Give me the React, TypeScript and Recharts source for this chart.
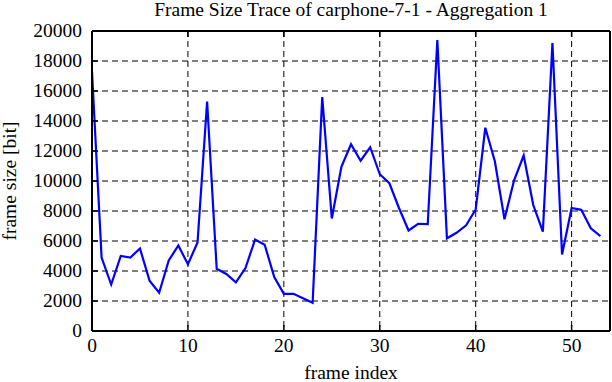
import React from 'react';
import { LineChart, Line, XAxis, YAxis, CartesianGrid } from 'recharts';

const frameIndex: number[] = Array.from({ length: 54 }, (_, i) => i);
const frameSize: number[] = [
  17300, 4900, 3100, 5000, 4900, 5500, 3350, 2550, 4700, 5700,
  4450, 5900, 15300, 4150, 3800, 3250, 4200, 6100, 5750, 3600,
  2480, 2480, 2180, 1880, 15600, 7500, 10950, 12450, 11350, 12250,
  10450, 9850, 8200, 6700, 7150, 7120, 19400, 6180, 6550, 7050,
  8100, 13550, 11300, 7450, 10050, 11700, 8400, 6620, 19200, 5100,
  8200, 8080, 6850, 6330,
];
const xTicks: number[] = [0, 10, 20, 30, 40, 50];
const yTicks: number[] = [0, 2000, 4000, 6000, 8000, 10000, 12000, 14000, 16000, 18000, 20000];

const data = frameIndex.map((x, i) => ({ x, y: frameSize[i] }));

const FONT = '"Liberation Serif", "Times New Roman", serif';
const FS = 19.5;
const TL = 6;

const BottomTick = (p: any) => (
  <g>
    <line x1={p.x} y1={p.y} x2={p.x} y2={p.y - TL} stroke="#000" strokeWidth={1.5} />
    <text x={p.x} y={p.y + 21} textAnchor="middle" fontFamily={FONT} fontSize={FS} fill="#000">
      {p.payload.value}
    </text>
  </g>
);
const TopTick = (p: any) => (
  <line x1={p.x} y1={p.y} x2={p.x} y2={p.y + TL} stroke="#000" strokeWidth={1.5} />
);
const LeftTick = (p: any) => (
  <g>
    <line x1={p.x} y1={p.y} x2={p.x + TL} y2={p.y} stroke="#000" strokeWidth={1.5} />
    <text x={p.x - 10} y={p.y + 6} textAnchor="end" fontFamily={FONT} fontSize={FS} fill="#000">
      {p.payload.value}
    </text>
  </g>
);
const RightTick = (p: any) => (
  <line x1={p.x} y1={p.y} x2={p.x - TL} y2={p.y} stroke="#000" strokeWidth={1.5} />
);

export default function App() {
  return (
    <div style={{ position: 'absolute', left: 0, top: 0, width: 612, height: 382, background: '#fff' }}>
      <LineChart
        width={612}
        height={382}
        data={data}
        margin={{ top: 0, right: 0, bottom: 0, left: 0 }}
      >
        <text x={351} y={16} textAnchor="middle" fontFamily={FONT} fontSize={FS} fill="#000">
          Frame Size Trace of carphone-7-1 - Aggregation 1
        </text>
        <text x={351} y={379} textAnchor="middle" fontFamily={FONT} fontSize={FS} fill="#000">
          frame index
        </text>
        <text
          x={16}
          y={181}
          textAnchor="middle"
          fontFamily={FONT}
          fontSize={FS}
          fill="#000"
          transform="rotate(-90 16 181)"
        >
          frame size [bit]
        </text>
        <CartesianGrid
          xAxisId="b"
          yAxisId="l"
          stroke="#000"
          strokeWidth={1}
          strokeDasharray="6 4"
        />
        <XAxis
          xAxisId="b"
          dataKey="x"
          type="number"
          domain={[0, 54]}
          ticks={xTicks}
          height={51}
          tickSize={0}
          tickMargin={0}
          tickLine={false}
          axisLine={{ stroke: '#000', strokeWidth: 2 }}
          tick={<BottomTick />}
          interval={0}
        />
        <XAxis
          xAxisId="t"
          orientation="top"
          dataKey="x"
          type="number"
          domain={[0, 54]}
          ticks={xTicks}
          height={31}
          tickSize={0}
          tickMargin={0}
          tickLine={false}
          axisLine={{ stroke: '#000', strokeWidth: 2 }}
          tick={<TopTick />}
          interval={0}
        />
        <YAxis
          yAxisId="l"
          type="number"
          domain={[0, 20000]}
          ticks={yTicks}
          width={92}
          tickSize={0}
          tickMargin={0}
          tickLine={false}
          axisLine={{ stroke: '#000', strokeWidth: 2 }}
          tick={<LeftTick />}
          interval={0}
        />
        <YAxis
          yAxisId="r"
          orientation="right"
          type="number"
          domain={[0, 20000]}
          ticks={yTicks}
          width={2}
          tickSize={0}
          tickMargin={0}
          tickLine={false}
          axisLine={{ stroke: '#000', strokeWidth: 2 }}
          tick={<RightTick />}
          interval={0}
        />
        <Line
          xAxisId="b"
          yAxisId="l"
          type="linear"
          dataKey="y"
          stroke="#0000ff"
          strokeWidth={2.2}
          dot={false}
          isAnimationActive={false}
        />
      </LineChart>
    </div>
  );
}
